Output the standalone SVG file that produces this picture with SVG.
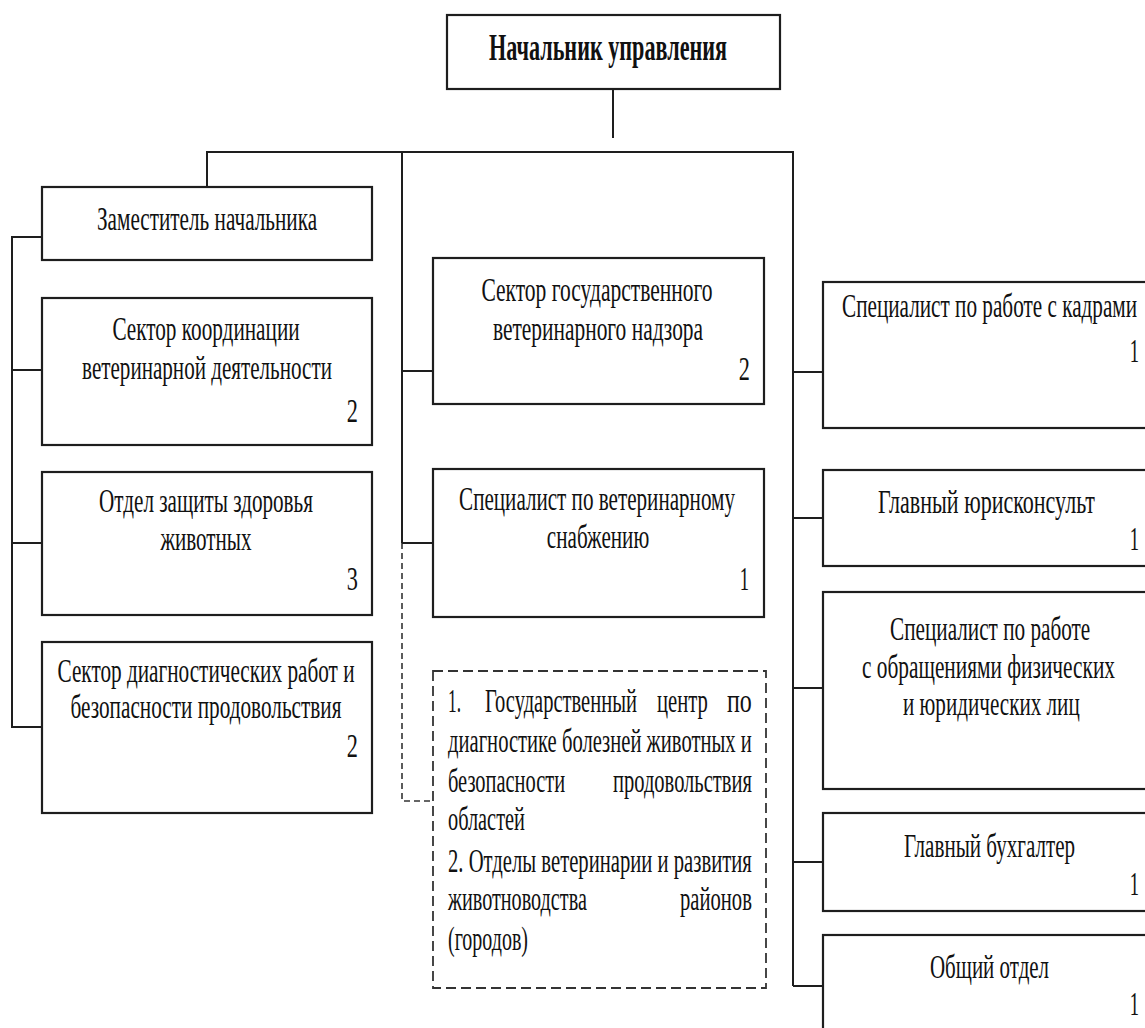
<svg xmlns="http://www.w3.org/2000/svg" width="1145" height="1028" viewBox="0 0 1145 1028">
<style>
.box{fill:#fff;stroke:#1e1e1e;stroke-width:2.2}
.dbox{fill:#fff;stroke:#333;stroke-width:1.8;stroke-dasharray:10 5}
.ln{fill:none;stroke:#1e1e1e;stroke-width:2}
.dl{fill:none;stroke:#333;stroke-width:1.6;stroke-dasharray:6 4}
text{font-family:"Liberation Serif","Times New Roman",serif;font-size:34px;fill:#111}
.t{font-weight:bold;font-size:38px}
.c{text-anchor:middle}
.e{text-anchor:end}
</style>
<rect width="1145" height="1028" fill="#fff"/>
<g id="connectors">
<path class="ln" d="M613,89 V138"/>
<path class="ln" d="M207,199 V152 H793 V986"/>
<path class="ln" d="M402,152 V543"/>
<path class="dl" d="M402,543 V801 H433"/>
<path class="ln" d="M42,237 H12 V727 H42 M12,370 H42 M12,543 H42"/>
<path class="ln" d="M402,371 H433 M402,543 H433"/>
<path class="ln" d="M793,372 H823 M793,518 H823 M793,688 H823 M793,862 H823 M793,986 H823"/>
</g>
<g id="n-head">
<rect class="box" x="447" y="15" width="333" height="74"/>
<text class="t c" transform="matrix(0.62,0,0,1,608,60)" textLength="384" lengthAdjust="spacingAndGlyphs">Начальник управления</text>
</g>
<g id="n-zam">
<rect class="box" x="42" y="187" width="330" height="73"/>
<text class="c" transform="matrix(0.62,0,0,1,207,230)" textLength="355" lengthAdjust="spacingAndGlyphs">Заместитель начальника</text>
</g>
<g id="n-koord">
<rect class="box" x="42" y="298" width="330" height="147"/>
<text class="c" transform="matrix(0.62,0,0,1,206,340)" textLength="302" lengthAdjust="spacingAndGlyphs">Сектор координации</text>
<text class="c" transform="matrix(0.62,0,0,1,207,379)" textLength="403" lengthAdjust="spacingAndGlyphs">ветеринарной деятельности</text>
<text class="e" transform="matrix(0.62,0,0,1,358,422)" textLength="18" lengthAdjust="spacingAndGlyphs">2</text>
</g>
<g id="n-zashch">
<rect class="box" x="42" y="472" width="330" height="143"/>
<text class="c" transform="matrix(0.62,0,0,1,206,512)" textLength="345" lengthAdjust="spacingAndGlyphs">Отдел защиты здоровья</text>
<text class="c" transform="matrix(0.62,0,0,1,206,550)" textLength="147" lengthAdjust="spacingAndGlyphs">животных</text>
<text class="e" transform="matrix(0.62,0,0,1,358,590)" textLength="18" lengthAdjust="spacingAndGlyphs">3</text>
</g>
<g id="n-diagn">
<rect class="box" x="42" y="642" width="330" height="171"/>
<text class="c" transform="matrix(0.62,0,0,1,206,682)" textLength="479" lengthAdjust="spacingAndGlyphs">Сектор диагностических работ и</text>
<text class="c" transform="matrix(0.62,0,0,1,206,718)" textLength="437" lengthAdjust="spacingAndGlyphs">безопасности продовольствия</text>
<text class="e" transform="matrix(0.62,0,0,1,358,757)" textLength="18" lengthAdjust="spacingAndGlyphs">2</text>
</g>
<g id="n-gos">
<rect class="box" x="433" y="258" width="331" height="146"/>
<text class="c" transform="matrix(0.62,0,0,1,597,301)" textLength="373" lengthAdjust="spacingAndGlyphs">Сектор государственного</text>
<text class="c" transform="matrix(0.62,0,0,1,598,340)" textLength="339" lengthAdjust="spacingAndGlyphs">ветеринарного надзора</text>
<text class="e" transform="matrix(0.62,0,0,1,750,380)" textLength="18" lengthAdjust="spacingAndGlyphs">2</text>
</g>
<g id="n-snab">
<rect class="box" x="433" y="469" width="331" height="148"/>
<text class="c" transform="matrix(0.62,0,0,1,597,510)" textLength="445" lengthAdjust="spacingAndGlyphs">Специалист по ветеринарному</text>
<text class="c" transform="matrix(0.62,0,0,1,598,548)" textLength="165" lengthAdjust="spacingAndGlyphs">снабжению</text>
<text class="e" transform="matrix(0.62,0,0,1,749,590)" textLength="15" lengthAdjust="spacingAndGlyphs">1</text>
</g>
<g id="n-sub">
<rect class="dbox" x="433" y="671" width="333" height="317"/>
<text transform="matrix(0.62,0,0,1,448,712)" textLength="21" lengthAdjust="spacingAndGlyphs">1.</text>
<text transform="matrix(0.62,0,0,1,485,712)" textLength="245" lengthAdjust="spacingAndGlyphs">Государственный</text>
<text transform="matrix(0.62,0,0,1,657,712)" textLength="82" lengthAdjust="spacingAndGlyphs">центр</text>
<text transform="matrix(0.62,0,0,1,727,712)" textLength="40" lengthAdjust="spacingAndGlyphs">по</text>
<text transform="matrix(0.62,0,0,1,448,752)" textLength="490" lengthAdjust="spacingAndGlyphs">диагностике болезней животных и</text>
<text transform="matrix(0.62,0,0,1,448,792)" textLength="189" lengthAdjust="spacingAndGlyphs">безопасности</text>
<text transform="matrix(0.62,0,0,1,613,792)" textLength="224" lengthAdjust="spacingAndGlyphs">продовольствия</text>
<text transform="matrix(0.62,0,0,1,448,830)" textLength="124" lengthAdjust="spacingAndGlyphs">областей</text>
<text transform="matrix(0.62,0,0,1,448,872)" textLength="490" lengthAdjust="spacingAndGlyphs">2. Отделы ветеринарии и развития</text>
<text transform="matrix(0.62,0,0,1,448,910)" textLength="224" lengthAdjust="spacingAndGlyphs">животноводства</text>
<text transform="matrix(0.62,0,0,1,680,910)" textLength="116" lengthAdjust="spacingAndGlyphs">районов</text>
<text transform="matrix(0.62,0,0,1,448,950)" textLength="129" lengthAdjust="spacingAndGlyphs">(городов)</text>
</g>
<g id="n-kadry">
<rect class="box" x="823" y="282" width="340" height="146"/>
<text transform="matrix(0.62,0,0,1,842,317)" textLength="476" lengthAdjust="spacingAndGlyphs">Специалист по работе с кадрами</text>
<text class="e" transform="matrix(0.62,0,0,1,1139,362)" textLength="15" lengthAdjust="spacingAndGlyphs">1</text>
</g>
<g id="n-yur">
<rect class="box" x="823" y="470" width="340" height="96"/>
<text transform="matrix(0.62,0,0,1,878,513)" textLength="350" lengthAdjust="spacingAndGlyphs">Главный юрисконсульт</text>
<text class="e" transform="matrix(0.62,0,0,1,1139,550)" textLength="15" lengthAdjust="spacingAndGlyphs">1</text>
</g>
<g id="n-obr">
<rect class="box" x="823" y="592" width="340" height="197"/>
<text transform="matrix(0.62,0,0,1,890,640)" textLength="323" lengthAdjust="spacingAndGlyphs">Специалист по работе</text>
<text transform="matrix(0.62,0,0,1,862,678)" textLength="408" lengthAdjust="spacingAndGlyphs">с обращениями физических</text>
<text transform="matrix(0.62,0,0,1,903,715)" textLength="285" lengthAdjust="spacingAndGlyphs">и юридических лиц</text>
</g>
<g id="n-buh">
<rect class="box" x="823" y="813" width="340" height="98"/>
<text transform="matrix(0.62,0,0,1,904,857)" textLength="276" lengthAdjust="spacingAndGlyphs">Главный бухгалтер</text>
<text class="e" transform="matrix(0.62,0,0,1,1139,895)" textLength="15" lengthAdjust="spacingAndGlyphs">1</text>
</g>
<g id="n-obsh">
<rect class="box" x="823" y="935" width="340" height="110"/>
<text transform="matrix(0.62,0,0,1,930,978)" textLength="192" lengthAdjust="spacingAndGlyphs">Общий отдел</text>
<text class="e" transform="matrix(0.62,0,0,1,1139,1015)" textLength="15" lengthAdjust="spacingAndGlyphs">1</text>
</g>
</svg>
